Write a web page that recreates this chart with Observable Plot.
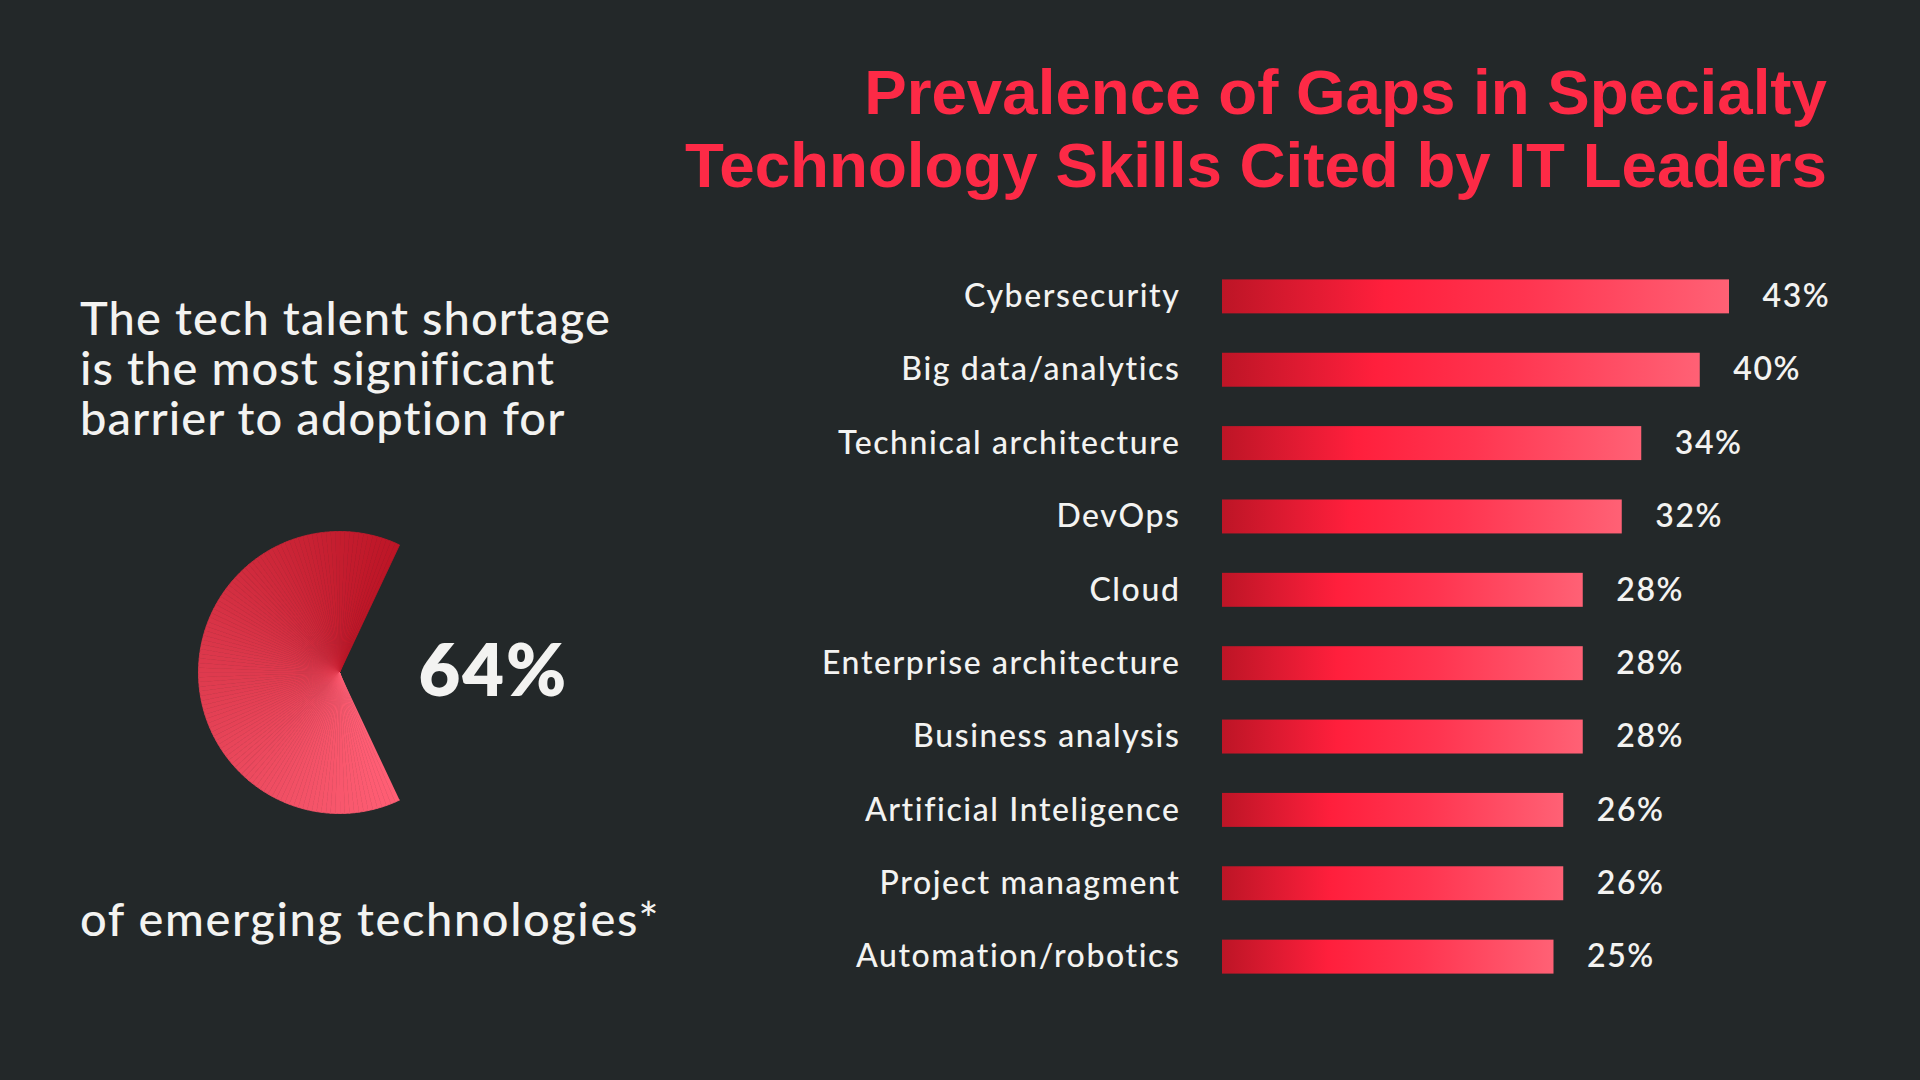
<!DOCTYPE html>
<html>
<head>
<meta charset="utf-8">
<script src="https://cdn.jsdelivr.net/npm/d3@7"></script>
<script src="https://cdn.jsdelivr.net/npm/@observablehq/plot@0.6"></script>
<style>
  html, body { margin: 0; padding: 0; width: 1920px; height: 1080px; overflow: hidden; background: #232829; }
  #page { position: relative; width: 1920px; height: 1080px; background: #232829; font-family: Lato, "Noto Sans", sans-serif; color: #f3f3f1; }
  .title { position: absolute; right: 93px; top: 55px; font-family: "Liberation Sans", Arial, sans-serif; font-weight: 700; font-size: 63.7px; line-height: 73px; color: #fd2a46; text-align: right; white-space: nowrap; }
  .lead { position: absolute; left: 80px; height: 50px; font-size: 47px; line-height: 50px; font-weight: 500; letter-spacing: 1.1px; white-space: nowrap; }
  #pie { position: absolute; left: 198px; top: 531px; }
  #bars { position: absolute; left: 600px; top: 220px; }
  #bars text { letter-spacing: 1.6px; }
</style>
</head>
<body>
<div id="page">
  <div class="title">Prevalence of Gaps in Specialty<br>Technology Skills Cited by IT Leaders</div>
  <div class="lead" style="top:292px">The tech talent shortage</div>
  <div class="lead" style="top:342px">is the most significant</div>
  <div class="lead" style="top:392px">barrier to adoption for</div>
  <div class="lead" style="top:893px; letter-spacing: 1.6px">of emerging technologies*</div>
  <div id="pie"></div>
  <div id="bars"></div>
</div>
<script>
// ---- data ----
const categories = ["Cybersecurity", "Big data/analytics", "Technical architecture", "DevOps", "Cloud", "Enterprise architecture", "Business analysis", "Artificial Inteligence", "Project managment", "Automation/robotics"];
const values = [43, 40, 34, 32, 28, 28, 28, 26, 26, 25];
const shortageShare = 64; // percent, pie value

const barColors = ["#bd1526", "#ff1f3c", "#ff3550", "#ff6175"];
const pieColors = ["#bd1526", "#ff5f75"];
const textColor = "#f3f3f1";

// ---- bar chart ----
const barData = categories.map((skill, i) => ({skill, value: values[i]}));
const axisStart = -9; // the bars' baseline in the original design

const gradientDefs = () => {
  const ns = "http://www.w3.org/2000/svg";
  const defs = document.createElementNS(ns, "defs");
  const g = document.createElementNS(ns, "linearGradient");
  g.setAttribute("id", "barGrad");
  g.setAttribute("x1", "0"); g.setAttribute("x2", "1");
  g.setAttribute("y1", "0"); g.setAttribute("y2", "0");
  const offs = [0, 0.32, 0.6, 1];
  barColors.forEach((c, i) => {
    const s = document.createElementNS(ns, "stop");
    s.setAttribute("offset", offs[i]);
    s.setAttribute("stop-color", c);
    g.appendChild(s);
  });
  defs.appendChild(g);
  return defs;
};

const bars = Plot.plot({
  width: 1320,
  height: 820,
  marginLeft: 622,
  marginRight: 191,
  marginTop: 20,
  marginBottom: 27,
  x: {domain: [axisStart, 43], axis: null},
  y: {domain: categories, padding: 0.537, round: false, label: null, axis: null},
  style: {background: "transparent", color: textColor, fontFamily: "Lato, 'Noto Sans', sans-serif", overflow: "visible"},
  marks: [
    gradientDefs,
    Plot.barX(barData, {x1: axisStart, x2: "value", y: "skill", fill: "url(#barGrad)"}),
    Plot.axisY({tickSize: 0, tickPadding: 42, fontSize: 32, fontWeight: 500, fill: textColor, label: null}),
    Plot.text(barData, {x: "value", y: "skill", text: d => d.value + "%", dx: 33, textAnchor: "start", fontSize: 32, fontWeight: 600, fill: textColor})
  ]
});
document.getElementById("bars").appendChild(bars);

// ---- pie (64% of a full circle, missing wedge centred on the right) ----
const N = 120;
const sweep = shortageShare / 100 * 2 * Math.PI;
const start = (1 - shortageShare / 100) * Math.PI; // upper edge of the gap
const piePts = [];
for (let k = 0; k < N; k++) {
  const a0 = start + sweep * k / N;
  const a1 = start + sweep * (k + 1) / N;
  const t = (k + 0.5) / N;
  piePts.push({k, t, x: 0, y: 0});
  for (let j = 0; j <= 2; j++) {
    const a = a0 + (a1 - a0) * j / 2;
    piePts.push({k, t, x: Math.cos(a), y: Math.sin(a)});
  }
}

const pie = Plot.plot({
  width: 420,
  height: 282,
  marginLeft: 0,
  marginTop: 0,
  marginBottom: 0,
  marginRight: 138,
  x: {domain: [-1, 1], axis: null},
  y: {domain: [-1, 1], axis: null},
  color: {type: "linear", domain: [0, 1], range: pieColors, interpolate: "rgb"},
  style: {background: "transparent", overflow: "visible"},
  marks: [
    Plot.line(piePts, {x: "x", y: "y", z: "k", fill: "t", stroke: "t", strokeWidth: 0.8, curve: "linear"}),
    Plot.text([shortageShare], {x: () => 0, y: () => 0, text: d => d + "%", dx: 79, dy: 0, textAnchor: "start", fontSize: 72, fontWeight: 800, fill: textColor, fontFamily: "Lato, 'Noto Sans', sans-serif"})
  ]
});
pie.querySelectorAll("text").forEach(t => t.style.letterSpacing = "2px");
document.getElementById("pie").appendChild(pie);
</script>
</body>
</html>
